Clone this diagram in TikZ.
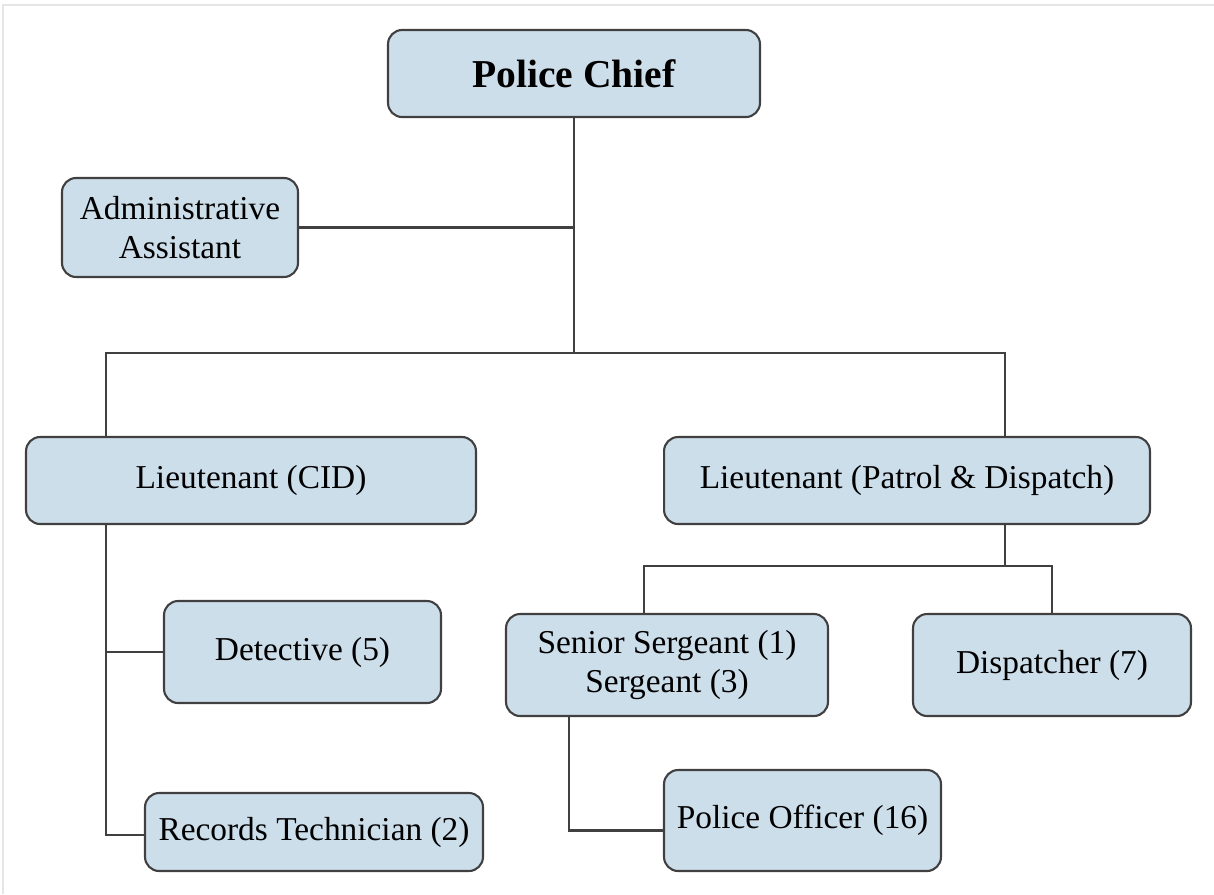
\documentclass[tikz,border=0pt]{standalone}
\usepackage{fontspec}
\setmainfont{Liberation Serif}
\usepackage{tikz}
\usepackage{color}
\definecolor{boxfill}{RGB}{205,222,235}
\definecolor{boxline}{RGB}{64,64,64}

\begin{document}
\begin{tikzpicture}[x=0.02cm,y=-0.02cm,every text node part/.style={align=center},
rank/.style={draw=boxline,line width=1.2pt,fill=boxfill,rounded corners=8pt,inner sep=0pt,font=\fontsize{19}{22.5}\selectfont},
link/.style={draw=boxline,line width=1.2pt}]
\useasboundingbox (0,0) rectangle (1214,894);
\draw[gray!20,line width=1pt] (3,894) -- (3,5) -- (1214,5);
% boxes, top to bottom
\node [rank,minimum width=7.44cm,minimum height=1.74cm,font=\fontsize{22.5}{26}\selectfont\bfseries] (chief) at (574,73.5) {Police Chief};
\node [rank,minimum width=4.72cm,minimum height=1.98cm] (admin) at (180,227.5) {Administrative\\Assistant};
\node [rank,minimum width=9cm,minimum height=1.74cm] (ltcid) at (251,480.5) {Lieutenant (CID)};
\node [rank,minimum width=9.72cm,minimum height=1.74cm] (ltpatrol) at (907,480.5) {Lieutenant (Patrol \& Dispatch)};
\node [rank,minimum width=5.54cm,minimum height=2.04cm] (detective) at (302.5,652) {Detective (5)};
\node [rank,minimum width=6.76cm,minimum height=1.56cm] (records) at (314,832) {Records Technician (2)};
\node [rank,minimum width=6.44cm,minimum height=2.04cm] (sergeant) at (667,665) {Senior Sergeant (1)\\Sergeant (3)};
\node [rank,minimum width=5.56cm,minimum height=2.04cm] (dispatcher) at (1052,665) {Dispatcher (7)};
\node [rank,minimum width=5.54cm,minimum height=2.02cm] (officer) at (802.5,820.5) {Police Officer (16)};
% joints of the lines
\coordinate (bus) at (574,353);
\coordinate (busL) at (106,353);
\coordinate (busR) at (1005,353);
\coordinate (pd) at (1005,566);
% lines
\draw[link] (chief.south) -- (bus);
\draw[link] (admin.east) -- (admin.east -| bus);
\draw[link] (busL |- ltcid.north) -- (busL) -- (busR) -- (busR |- ltpatrol.north);
\draw[link] (busL |- ltcid.south) |- ([yshift=-0.06cm]records.west);
\draw[link] (detective.west) -- (detective.west -| busL);
\draw[link] (pd |- ltpatrol.south) -- (pd);
\draw[link] ([xshift=-0.46cm]sergeant.north) |- (pd) -| (dispatcher.north);
\draw[link] ([xshift=-1.96cm]sergeant.south) |- ([yshift=-0.2cm]officer.west);
\end{tikzpicture}
\end{document}
